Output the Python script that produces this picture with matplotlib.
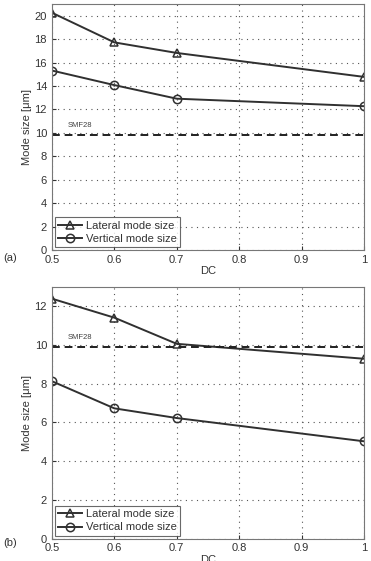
import matplotlib
matplotlib.use("Agg")
import matplotlib.pyplot as plt

plt.rcParams['font.family'] = ['Liberation Sans', 'DejaVu Sans']

dc = [0.5, 0.6, 0.7, 1.0]
lat_a = [20.25, 17.72, 16.82, 14.78]
vert_a = [15.32, 14.08, 12.92, 12.28]
smf_a = 9.8
lat_b = [12.38, 11.4, 10.05, 9.28]
vert_b = [8.12, 6.72, 6.22, 5.02]
smf_b = 9.87
xticks = [0.5, 0.6, 0.7, 0.8, 0.9, 1.0]
xticklabels = ['0.5', '0.6', '0.7', '0.8', '0.9', '1']

fig = plt.figure(figsize=(3.71, 5.61), dpi=100)
ax1 = fig.add_axes([0.140, 0.554, 0.841, 0.439])
ax2 = fig.add_axes([0.140, 0.040, 0.841, 0.449])

lc = '#303030'

def setup(ax, lat, vert, smf, ymax, yticks):
    ax.plot(dc, lat, '-', color=lc, lw=1.4, marker='^', ms=6, mfc='none', mec=lc, mew=1.1, label='Lateral mode size')
    ax.plot(dc, vert, '-', color=lc, lw=1.4, marker='o', ms=6, mfc='none', mec=lc, mew=1.1, label='Vertical mode size')
    ax.axhline(smf, color='#202020', lw=1.4, ls=(0, (4, 2.5)))
    ax.text(0.525, smf + 0.72 * ymax / 21, 'SMF28', fontsize=5.5, color='#404040')
    ax.set_xlim(0.5, 1.0)
    ax.set_ylim(0, ymax)
    ax.set_xticks(xticks)
    ax.set_xticklabels(xticklabels)
    ax.set_yticks(yticks)
    ax.grid(True, ls=(0, (1, 4)), color='#555555', lw=0.8)
    ax.tick_params(labelsize=8, colors='#333333', direction='in', length=3)
    for s in ax.spines.values():
        s.set_color('#777777')
        s.set_linewidth(0.8)
    ax.set_xlabel('DC', fontsize=8, color='#333333', labelpad=1)
    ax.set_ylabel('Mode size [\u03bcm]', fontsize=8, color='#333333', labelpad=2)
    leg = ax.legend(loc='lower left', fontsize=8, frameon=True, fancybox=False,
                    borderpad=0.3, handlelength=2.2, handletextpad=0.3, labelspacing=0.3,
                    borderaxespad=0.25)
    leg.get_frame().set_edgecolor('#444444')
    leg.get_frame().set_linewidth(0.8)
    for t in leg.get_texts():
        t.set_color('#333333')

setup(ax1, lat_a, vert_a, smf_a, 21, list(range(0, 21, 2)))
setup(ax2, lat_b, vert_b, smf_b, 13, list(range(0, 13, 2)))

fig.text(0.008, 0.535, '(a)', fontsize=8, color='#333333')
fig.text(0.008, 0.027, '(b)', fontsize=8, color='#333333')

fig.savefig('out.png', dpi=100)
